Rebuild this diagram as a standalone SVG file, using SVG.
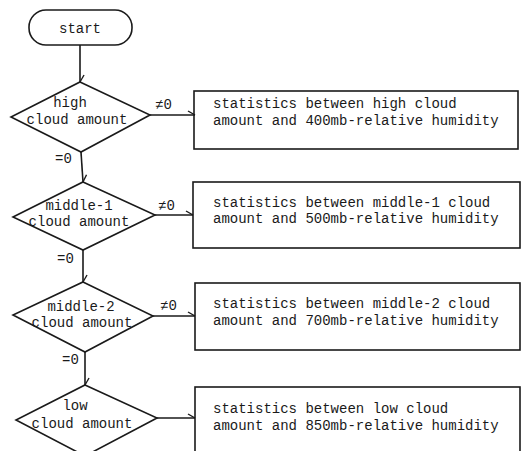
<svg xmlns="http://www.w3.org/2000/svg" width="526" height="451" viewBox="0 0 526 451">
  <style>
    .shape { fill: none; stroke: #1a1a1a; stroke-width: 1.6; }
    .link { fill: none; stroke: #1a1a1a; stroke-width: 1.6; marker-end: url(#barb); }
    text { font-family: "Liberation Mono", "DejaVu Sans Mono", monospace; font-size: 14px; fill: #1a1a1a; }
    .mid { text-anchor: middle; }
  </style>
  <defs>
    <!-- single-sided arrow barb, as drawn on a typewriter chart -->
    <marker id="barb" markerUnits="userSpaceOnUse" markerWidth="12" markerHeight="12" refX="0" refY="0" viewBox="-8 -6 10 12" orient="auto" overflow="visible">
      <path d="M -7 -4 L 0 0" fill="none" stroke="#1a1a1a" stroke-width="1.4"/>
    </marker>
  </defs>
  <rect width="526" height="451" fill="#ffffff"/>

  <!-- connectors -->
  <g id="connectors">
    <line class="link" x1="80" y1="45" x2="80" y2="82"/>
    <line class="link" x1="150" y1="115" x2="195" y2="115"/>
    <line class="link" x1="81" y1="152" x2="83" y2="182"/>
    <line class="link" x1="155" y1="215" x2="193" y2="215"/>
    <line class="link" x1="83" y1="250" x2="83" y2="282"/>
    <line class="link" x1="153" y1="316" x2="195" y2="316"/>
    <line class="link" x1="85" y1="352" x2="85" y2="385"/>
    <line class="link" x1="157" y1="418" x2="195" y2="418"/>
    <text x="155" y="109">≠0</text>
    <text x="55" y="163">=0</text>
    <text x="158" y="210">≠0</text>
    <text x="57" y="263">=0</text>
    <text x="160" y="310">≠0</text>
    <text x="62" y="364">=0</text>
  </g>

  <g id="start">
    <rect class="shape" x="29" y="10" width="103" height="35" rx="17" ry="17"/>
    <text class="mid" x="80" y="33">start</text>
  </g>

  <g id="decision-high">
    <polygon class="shape" points="80,82 150,115 81,152 11,117"/>
    <text class="mid" x="70" y="107">high</text>
    <text class="mid" x="77" y="124">cloud amount</text>
  </g>
  <g id="stats-high">
    <rect class="shape" x="194" y="91" width="324" height="58"/>
    <text x="213" y="108">statistics between high cloud</text>
    <text x="213" y="125">amount and 400mb-relative humidity</text>
  </g>

  <g id="decision-middle1">
    <polygon class="shape" points="83,182 155,215 83,250 13,217"/>
    <text class="mid" x="79" y="210">middle-1</text>
    <text class="mid" x="79" y="226">cloud amount</text>
  </g>
  <g id="stats-middle1">
    <rect class="shape" x="193" y="182" width="327" height="66"/>
    <text x="213" y="207">statistics between middle-1 cloud</text>
    <text x="213" y="223">amount and 500mb-relative humidity</text>
  </g>

  <g id="decision-middle2">
    <polygon class="shape" points="83,282 153,316 85,352 13,315"/>
    <text class="mid" x="81" y="311">middle-2</text>
    <text class="mid" x="82" y="327">cloud amount</text>
  </g>
  <g id="stats-middle2">
    <rect class="shape" x="195" y="283" width="325" height="67"/>
    <text x="213" y="308">statistics between middle-2 cloud</text>
    <text x="213" y="325">amount and 700mb-relative humidity</text>
  </g>

  <g id="decision-low">
    <polygon class="shape" points="85,385 157,418 85,456 16,420"/>
    <text class="mid" x="75" y="410">low</text>
    <text class="mid" x="82" y="428">cloud amount</text>
  </g>
  <g id="stats-low">
    <rect class="shape" x="195" y="387" width="325" height="75"/>
    <text x="213" y="413">statistics between low cloud</text>
    <text x="213" y="430">amount and 850mb-relative humidity</text>
  </g>
</svg>
